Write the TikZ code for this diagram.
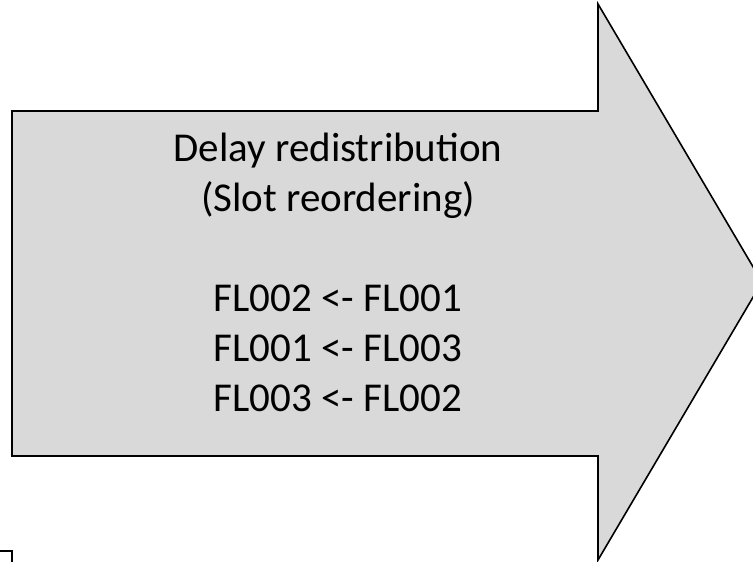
\documentclass[tikz,border=0pt]{standalone}
\usepackage{fontspec}
\setmainfont{Carlito}
\usetikzlibrary{calc,positioning}

\begin{document}
\begin{tikzpicture}[x=1pt,y=-1pt]
\tikzset{arrowbody/.style={draw=black,fill=black!15,line width=1.6pt,line join=miter},
  arrowtext/.style={align=center,font=\fontsize{41}{50}\selectfont,inner sep=0pt}}
\useasboundingbox (0,0) rectangle (753,562);
\clip (0,0) rectangle (753,562);
\coordinate (BL) at (12,456);
\coordinate (TL) at (12,111);
\coordinate (TB) at (598,111);
\coordinate (HT) at (598,4);
\coordinate (TIP) at (762,282);
\coordinate (HB) at (598,560);
\coordinate (BB) at (598,456);
\draw[arrowbody] (BL) -- (TL) -- (TB) -- (HT) -- (TIP) -- (HB) -- (BB) -- cycle;
\node[arrowtext] (txt) at (338,272) {Delay redistribution\\(Slot reordering)\\[50pt]FL002 <- FL001\\FL001 <- FL003\\FL003 <- FL002};
% corner of a box below
\draw[line width=1.6pt] (-20,551) -- (12,551) -- (12,580);
\end{tikzpicture}
\end{document}
